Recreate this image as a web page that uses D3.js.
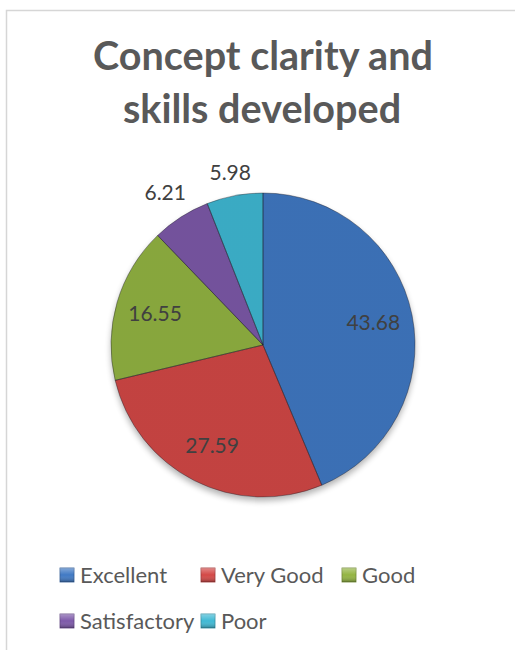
<!DOCTYPE html>
<html>
<head>
<meta charset="utf-8">
<script src="https://cdn.jsdelivr.net/npm/d3@7"></script>
<style>
  html, body { margin: 0; padding: 0; background: #fff; }
  svg { display: block; }
</style>
</head>
<body>
<script>
// ---- data ----
const titleLines = ["Concept clarity and", "skills developed"];
const categories = ["Excellent", "Very Good", "Good", "Satisfactory", "Poor"];
const values = [43.68, 27.59, 16.55, 6.21, 5.98];
const colors = ["#4079c4", "#d34846", "#93b442", "#7d59a9", "#3fb9d4"];

const W = 515, H = 650;
const cx = 263, cy = 345, R = 152;

const svg = d3.select("body").append("svg").attr("width", W).attr("height", H);
const defs = svg.append("defs");

// border
svg.append("path")
  .attr("d", `M6.5,${H} L6.5,10.5 L${W},10.5`)
  .attr("fill", "none").attr("stroke", "#d6d6d6").attr("stroke-width", 1.5);

// title
const titleG = svg.append("g");
const t1 = titleG.append("text").text(titleLines[0])
  .attr("x", cx).attr("y", 70).attr("text-anchor", "middle")
  .attr("font-family", "Lato, 'Open Sans', sans-serif").attr("font-weight", 700)
  .attr("font-size", 36).attr("fill", "#595959");
const w1 = t1.node().getComputedTextLength();
const fs = 36 * 340 / w1;
t1.attr("font-size", fs);
titleG.append("text").text(titleLines[1])
  .attr("x", cx - 1).attr("y", 123).attr("text-anchor", "middle")
  .attr("font-family", "Lato, 'Open Sans', sans-serif").attr("font-weight", 700)
  .attr("font-size", fs).attr("fill", "#595959");

// shadow filter
const f = defs.append("filter").attr("id", "shadow").attr("x", "-20%").attr("y", "-20%").attr("width", "140%").attr("height", "140%");
f.append("feGaussianBlur").attr("stdDeviation", 3);

// bevel gradients
const gHi = defs.append("linearGradient").attr("id", "bevel")
  .attr("x1", "0").attr("y1", "0").attr("x2", "0.6").attr("y2", "1");
gHi.append("stop").attr("offset", "0").attr("stop-color", "#fff").attr("stop-opacity", 0.4);
gHi.append("stop").attr("offset", "0.55").attr("stop-color", "#fff").attr("stop-opacity", 0.05);
gHi.append("stop").attr("offset", "1").attr("stop-color", "#000").attr("stop-opacity", 0.25);

const shade = defs.append("radialGradient").attr("id", "shade")
  .attr("gradientUnits", "userSpaceOnUse")
  .attr("cx", cx).attr("cy", cy).attr("r", R);
shade.append("stop").attr("offset", "0").attr("stop-color", "#fff").attr("stop-opacity", 0.03);
shade.append("stop").attr("offset", "0.9").attr("stop-color", "#000").attr("stop-opacity", 0.0);
shade.append("stop").attr("offset", "1").attr("stop-color", "#000").attr("stop-opacity", 0.08);

const pie = d3.pie().sort(null).value(d => d)(values);
const arc = d3.arc().innerRadius(0).outerRadius(R);
const g = svg.append("g").attr("transform", `translate(${cx},${cy})`);

// drop shadow
g.append("circle").attr("cx", 0).attr("cy", 4).attr("r", R)
  .attr("fill", "#000").attr("opacity", 0.3).attr("filter", "url(#shadow)");

pie.forEach((p, i) => {
  const d = arc(p);
  const cpId = "clip" + i;
  defs.append("clipPath").attr("id", cpId).append("path").attr("d", d)
    .attr("transform", `translate(${cx},${cy})`);
  g.append("path").attr("d", d).attr("fill", colors[i]);
  g.append("path").attr("d", d).attr("fill", "url(#shade)");
  // bevel: wide stroke clipped inside the slice
  svg.append("path").attr("d", d).attr("transform", `translate(${cx},${cy})`)
    .attr("fill", "none").attr("stroke", "url(#bevel)").attr("stroke-width", 9)
    .attr("stroke-linejoin", "round")
    .attr("clip-path", `url(#${cpId})`);
});
// thin separators
pie.forEach((p, i) => {
  svg.append("path").attr("d", arc(p)).attr("transform", `translate(${cx},${cy})`)
    .attr("fill", "none").attr("stroke", "rgba(30,30,40,0.5)").attr("stroke-width", 0.8);
});

// data labels
const inner = d3.arc().innerRadius(R * 0.74).outerRadius(R * 0.74);
const labelG = svg.append("g").attr("font-family", "Lato, 'Open Sans', sans-serif")
  .attr("font-size", 21).attr("fill", "#404040");
pie.forEach((p, i) => {
  let x, y;
  if (p.data >= 10) {
    [x, y] = inner.centroid(p);
  } else {
    const a = (p.startAngle + p.endAngle) / 2;
    const s = Math.sin(a), c = Math.cos(a);
    const d = R + 12 + Math.abs(s) * 19 + Math.abs(c) * 8;
    x = d * s; y = -d * c;
  }
  labelG.append("text").text(values[i].toFixed(2))
    .attr("x", cx + x).attr("y", cy + y).attr("dy", "0.35em")
    .attr("text-anchor", "middle");
});

// legend
const legG = svg.append("g").attr("font-family", "Lato, 'Open Sans', sans-serif")
  .attr("font-size", 22).attr("fill", "#595959");
const legGrad = defs.append("linearGradient").attr("id", "legbev")
  .attr("x1", 0).attr("y1", 0).attr("x2", 0).attr("y2", 1);
legGrad.append("stop").attr("offset", 0).attr("stop-color", "#fff").attr("stop-opacity", 0.35);
legGrad.append("stop").attr("offset", 0.5).attr("stop-color", "#fff").attr("stop-opacity", 0);
legGrad.append("stop").attr("offset", 1).attr("stop-color", "#000").attr("stop-opacity", 0.3);
categories.forEach((c, i) => {
  const col = i < 3 ? i : i - 3;
  const row = i < 3 ? 0 : 1;
  const x = 60 + col * 141, y = 575 + row * 46;
  legG.append("rect").attr("x", x).attr("y", y - 7).attr("width", 14).attr("height", 14)
    .attr("fill", colors[i]).attr("stroke", d3.color(colors[i]).darker(0.8)).attr("stroke-width", 0.8);
  legG.append("rect").attr("x", x).attr("y", y - 7).attr("width", 14).attr("height", 14)
    .attr("fill", "url(#legbev)");
  legG.append("text").text(c).attr("x", x + 20).attr("y", y).attr("dy", "0.35em");
});
</script>
</body>
</html>
